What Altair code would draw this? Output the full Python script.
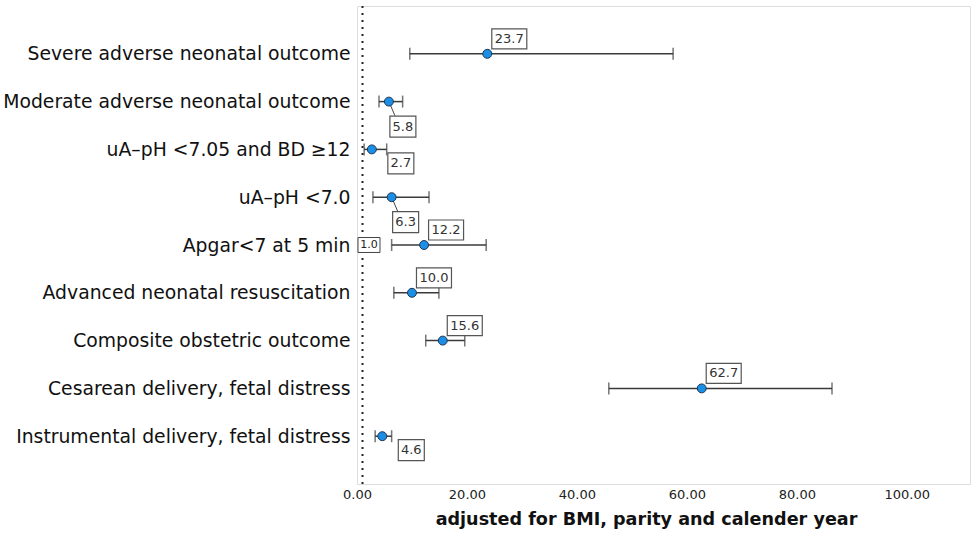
import altair as alt
import pandas as pd

outcomes = [
    "Severe adverse neonatal outcome",
    "Moderate adverse neonatal outcome",
    "uA\u2013pH <7.05 and BD \u226512",
    "uA\u2013pH <7.0",
    "Apgar<7 at 5 min",
    "Advanced neonatal resuscitation",
    "Composite obstetric outcome",
    "Cesarean delivery, fetal distress",
    "Instrumental delivery, fetal distress",
]
estimates = [23.7, 5.8, 2.7, 6.3, 12.2, 10.0, 15.6, 62.7, 4.6]
lower = [9.6, 4.0, 1.3, 2.9, 6.3, 6.7, 12.5, 45.8, 3.3]
upper = [57.5, 8.3, 5.4, 13.1, 23.5, 14.9, 19.6, 86.4, 6.3]
labels = ["23.7", "5.8", "2.7", "6.3", "12.2", "10.0", "15.6", "62.7", "4.6"]
placement = ["above", "below", "right", "below", "above", "above", "above", "above", "right"]
ref_value = 1.0
ref_label = "1.0"
ref_row = "Apgar<7 at 5 min"
x_ticks = [0, 20, 40, 60, 80, 100]

offsets = {"above": (22, -15), "below": (14, 25), "right": (29, 14)}
box4 = ("M-1,-0.571H1V0.571H-1Z", 1225)
box3 = ("M-1,-0.808H1V0.808H-1Z", 676)

df = pd.DataFrame({
    "outcome": outcomes,
    "est": estimates,
    "lo": lower,
    "hi": upper,
    "label": labels,
    "place": placement,
})
df["shape"] = [box4[0] if len(l) >= 4 else box3[0] for l in labels]
df["bsize"] = [box4[1] if len(l) >= 4 else box3[1] for l in labels]

xscale = alt.Scale(domain=[0, 111.5], nice=False, zero=False)
yscale = alt.Scale(type="point", domain=outcomes, padding=1)

base = alt.Chart(df)
X = alt.X("est:Q", scale=xscale,
          axis=alt.Axis(values=x_ticks, format=".2f", ticks=False, grid=False, domain=False,
                        labelFlush=False,
                        labelFontSize=13, labelColor="#222", labelPadding=4,
                        title="adjusted for BMI, parity and calender year",
                        titleFontSize=17.6, titleFontWeight="bold", titleColor="#111",
                        titlePadding=9, titleX=289, titleAlign="center"))
Y = alt.Y("outcome:N", scale=yscale,
          axis=alt.Axis(title=None, ticks=False, domain=False, grid=False,
                        labelFontSize=18.8, labelColor="#111", labelPadding=7,
                        labelLimit=400))

refdf = pd.DataFrame({"x": [ref_value], "outcome": [ref_row], "label": [ref_label]})
ref_line = alt.Chart(refdf).mark_rule(color="#222", strokeWidth=2, strokeDash=[2, 5]).encode(
    x=alt.X("x:Q", scale=xscale))

bars = base.mark_rule(color="#3a3a3a", strokeWidth=1.5).encode(
    x=alt.X("lo:Q", scale=xscale), x2="hi:Q", y=alt.Y("outcome:N", scale=yscale))
cap_lo = base.mark_tick(color="#3a3a3a", thickness=1.5, size=12).encode(
    x=alt.X("lo:Q", scale=xscale), y=alt.Y("outcome:N", scale=yscale))
cap_hi = base.mark_tick(color="#3a3a3a", thickness=1.5, size=12).encode(
    x=alt.X("hi:Q", scale=xscale), y=alt.Y("outcome:N", scale=yscale))

leaders = base.transform_filter(alt.datum.place == "below").mark_point(
    shape="M0,0L0.43,1", size=784, filled=False, stroke="#444", strokeWidth=1, opacity=1).encode(
    x=alt.X("est:Q", scale=xscale), y=alt.Y("outcome:N", scale=yscale))

points = base.mark_point(filled=True, fill="#1b8fe6", stroke="#1f3550", strokeWidth=1,
                         size=80, opacity=1).encode(x=X, y=Y)

label_layers = []
for place, (dx, dy) in offsets.items():
    sub = base.transform_filter(alt.datum.place == place)
    box = sub.mark_point(filled=True, fill="white", stroke="#555", strokeWidth=1.2,
                         opacity=1, xOffset=dx, yOffset=dy).encode(
        x=alt.X("est:Q", scale=xscale), y=alt.Y("outcome:N", scale=yscale),
        shape=alt.Shape("shape:N", scale=None), size=alt.Size("bsize:Q", scale=None))
    txt = sub.mark_text(fontSize=13, color="#333", dx=dx, dy=dy, baseline="middle",
                        align="center").encode(
        x=alt.X("est:Q", scale=xscale), y=alt.Y("outcome:N", scale=yscale), text="label:N")
    label_layers += [box, txt]

ref_box = alt.Chart(refdf).mark_point(shape="M-1,-0.68H1V0.68H-1Z", size=484, filled=True,
                                      fill="white", stroke="#444", strokeWidth=1, opacity=1,
                                      xOffset=6.5).encode(
    x=alt.X("x:Q", scale=xscale), y=alt.Y("outcome:N", scale=yscale))
ref_txt = alt.Chart(refdf).mark_text(fontSize=11, color="#222", dx=6.5, baseline="middle").encode(
    x=alt.X("x:Q", scale=xscale), y=alt.Y("outcome:N", scale=yscale), text="label:N")

chart = alt.layer(
    ref_line, bars, cap_lo, cap_hi, leaders, points, *label_layers, ref_box, ref_txt
).properties(
    width=613, height=478,
    autosize=alt.AutoSizeParams(type="none"),
    padding={"left": 357, "top": 6, "right": 1, "bottom": 63},
).configure_view(
    stroke="#222", strokeWidth=1.3
).configure(
    font="DejaVu Sans", background="white"
)

chart.save("out.html", embed_options={"renderer": "svg", "actions": False})
